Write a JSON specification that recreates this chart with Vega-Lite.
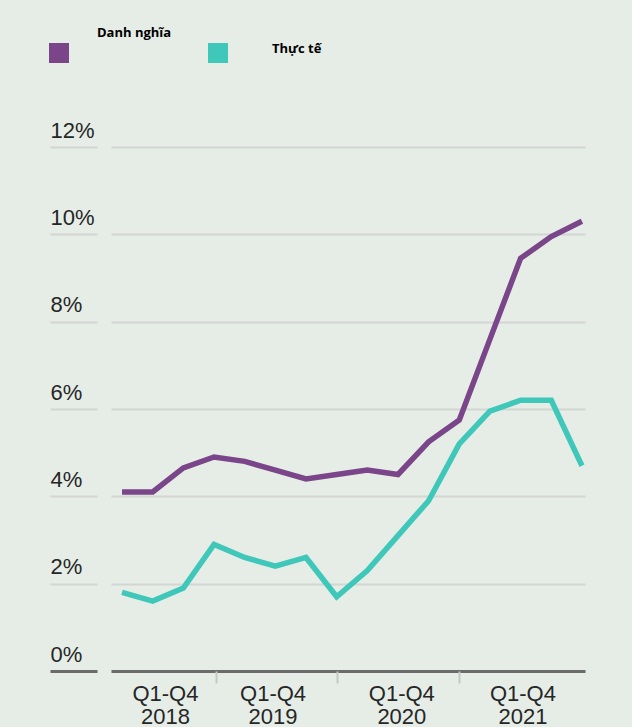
{
  "$schema": "https://vega.github.io/schema/vega-lite/v6.json",
  "width": 474,
  "height": 524,
  "autosize": {"type": "none"},
  "padding": {"left": 111, "top": 147, "right": 47, "bottom": 56},
  "background": "#e5ede6",
  "config": {"view": {"stroke": null}},
  "data": {
    "values": [
      {"t": 0, "ky": "2018 Q1", "loai": "Danh nghĩa", "v": 4.1},
      {"t": 1, "ky": "2018 Q2", "loai": "Danh nghĩa", "v": 4.1},
      {"t": 2, "ky": "2018 Q3", "loai": "Danh nghĩa", "v": 4.65},
      {"t": 3, "ky": "2018 Q4", "loai": "Danh nghĩa", "v": 4.9},
      {"t": 4, "ky": "2019 Q1", "loai": "Danh nghĩa", "v": 4.8},
      {"t": 5, "ky": "2019 Q2", "loai": "Danh nghĩa", "v": 4.6},
      {"t": 6, "ky": "2019 Q3", "loai": "Danh nghĩa", "v": 4.4},
      {"t": 7, "ky": "2019 Q4", "loai": "Danh nghĩa", "v": 4.5},
      {"t": 8, "ky": "2020 Q1", "loai": "Danh nghĩa", "v": 4.6},
      {"t": 9, "ky": "2020 Q2", "loai": "Danh nghĩa", "v": 4.5},
      {"t": 10, "ky": "2020 Q3", "loai": "Danh nghĩa", "v": 5.25},
      {"t": 11, "ky": "2020 Q4", "loai": "Danh nghĩa", "v": 5.75},
      {"t": 12, "ky": "2021 Q1", "loai": "Danh nghĩa", "v": 7.6},
      {"t": 13, "ky": "2021 Q2", "loai": "Danh nghĩa", "v": 9.45},
      {"t": 14, "ky": "2021 Q3", "loai": "Danh nghĩa", "v": 9.95},
      {"t": 15, "ky": "2021 Q4", "loai": "Danh nghĩa", "v": 10.3},
      {"t": 0, "ky": "2018 Q1", "loai": "Thực tế", "v": 1.8},
      {"t": 1, "ky": "2018 Q2", "loai": "Thực tế", "v": 1.6},
      {"t": 2, "ky": "2018 Q3", "loai": "Thực tế", "v": 1.9},
      {"t": 3, "ky": "2018 Q4", "loai": "Thực tế", "v": 2.9},
      {"t": 4, "ky": "2019 Q1", "loai": "Thực tế", "v": 2.6},
      {"t": 5, "ky": "2019 Q2", "loai": "Thực tế", "v": 2.4},
      {"t": 6, "ky": "2019 Q3", "loai": "Thực tế", "v": 2.6},
      {"t": 7, "ky": "2019 Q4", "loai": "Thực tế", "v": 1.7},
      {"t": 8, "ky": "2020 Q1", "loai": "Thực tế", "v": 2.3},
      {"t": 9, "ky": "2020 Q2", "loai": "Thực tế", "v": 3.1},
      {"t": 10, "ky": "2020 Q3", "loai": "Thực tế", "v": 3.9},
      {"t": 11, "ky": "2020 Q4", "loai": "Thực tế", "v": 5.2},
      {"t": 12, "ky": "2021 Q1", "loai": "Thực tế", "v": 5.95},
      {"t": 13, "ky": "2021 Q2", "loai": "Thực tế", "v": 6.2},
      {"t": 14, "ky": "2021 Q3", "loai": "Thực tế", "v": 6.2},
      {"t": 15, "ky": "2021 Q4", "loai": "Thực tế", "v": 4.7}
    ]
  },
  "mark": {"type": "line", "strokeWidth": 5.5},
  "encoding": {
    "x": {
      "field": "t",
      "type": "quantitative",
      "scale": {"domain": [-0.36, 15.1], "nice": false, "zero": false},
      "axis": {
        "orient": "bottom",
        "title": null,
        "domain": false,
        "grid": false,
        "values": [1.4, 3.05, 4.91, 7.02, 9.11, 11, 13.06],
        "tickSize": 12,
        "tickWidth": 2,
        "tickColor": {"condition": {"test": "datum.value == 3.05 || datum.value == 7.02 || datum.value == 11", "value": "#c5c9c5"}, "value": "transparent"},
        "labelExpr": "datum.value == 1.4 ? ['Q1-Q4', '2018'] : datum.value == 4.91 ? ['Q1-Q4', '2019'] : datum.value == 9.11 ? ['Q1-Q4', '2020'] : datum.value == 13.06 ? ['Q1-Q4', '2021'] : ''",
        "labelFont": "Liberation Sans",
        "labelFontSize": 22,
        "labelColor": "#262626",
        "labelLineHeight": 23,
        "labelPadding": 0,
        "labelOverlap": false,
        "labelBound": false,
        "labelFlush": false
      }
    },
    "y": {
      "field": "v",
      "type": "quantitative",
      "scale": {"domain": [0, 12], "nice": false},
      "axis": {
        "orient": "left",
        "title": null,
        "offset": 14,
        "domain": false,
        "grid": true,
        "values": [0, 2, 4, 6, 8, 10, 12],
        "labelExpr": "datum.value + '%'",
        "tickSize": 47,
        "labelAlign": "left",
        "labelPadding": 0,
        "labelBaseline": "alphabetic",
        "labelOffset": -10,
        "labelFont": "Liberation Sans",
        "labelFontSize": 22,
        "labelColor": "#262626",
        "gridColor": {"condition": {"test": "datum.value === 0", "value": "#6b6b6b"}, "value": "#d3d6d3"},
        "gridWidth": {"condition": {"test": "datum.value === 0", "value": 3}, "value": 2},
        "tickColor": {"condition": {"test": "datum.value === 0", "value": "#6b6b6b"}, "value": "#d3d6d3"},
        "tickWidth": {"condition": {"test": "datum.value === 0", "value": 3}, "value": 2}
      }
    },
    "color": {
      "field": "loai",
      "type": "nominal",
      "scale": {"domain": ["Danh nghĩa", "Thực tế"], "range": ["#7a4589", "#3fc7b9"]},
      "legend": {
        "orient": "none",
        "legendX": -62,
        "legendY": -104,
        "direction": "horizontal",
        "title": null,
        "padding": 0,
        "symbolType": "square",
        "symbolSize": 400,
        "symbolStrokeWidth": 0,
        "labelOffset": 28,
        "columnPadding": 36,
        "labelFont": "Open Sans",
        "labelFontWeight": "bold",
        "labelFontSize": 13,
        "labelColor": "#000000",
        "labelBaseline": "alphabetic",
        "labelLimit": 200,
        "encode": {
          "symbols": {
            "update": {
              "fill": {"scale": "color", "field": "value"},
              "stroke": {"value": "transparent"}
            }
          },
          "labels": {
            "update": {
              "dy": {"signal": "datum.index === 0 ? -16 : 0"},
              "dx": {"signal": "datum.index === 1 ? 16 : 0"}
            }
          }
        }
      }
    }
  }
}
